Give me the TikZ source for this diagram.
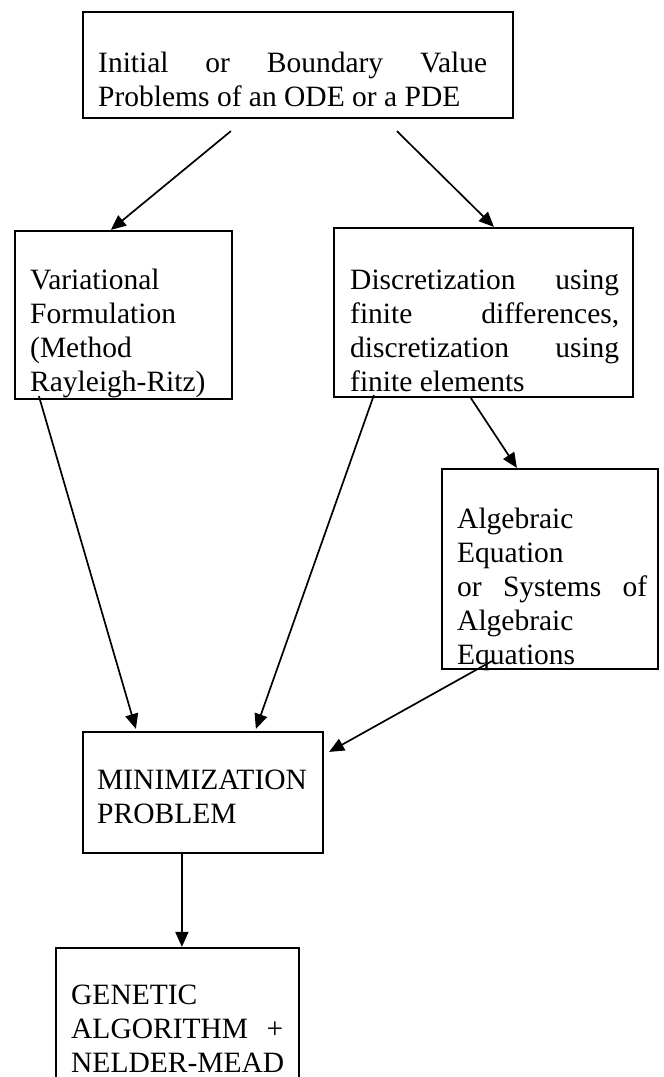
\documentclass[tikz,border=0pt]{standalone}
\usepackage{fontspec}
\setmainfont{Liberation Serif}
\usetikzlibrary{calc,arrows.meta}
\begin{document}
\begin{tikzpicture}[x=1pt,y=-1pt,
  box/.style={draw,line width=2.2pt,inner sep=0pt,minimum width=#1},
  txt/.style={anchor=north west,inner sep=0pt,text width=#1,align=justify,
    font=\fontsize{29.5}{34}\selectfont},
  arr/.style={line width=1.7pt,-{Triangle[length=15pt,width=13pt]}}]
\useasboundingbox (0,0) rectangle (664,1077);
\clip (0,0) rectangle (664,1077);
% boxes
\node[box=430pt,minimum height=106pt] (top) at (298,65) {};
\node[box=217pt,minimum height=168pt] (var) at (123.5,315) {};
\node[box=299pt,minimum height=169pt] (disc) at (483.5,312.5) {};
\node[box=216pt,minimum height=200pt] (alg) at (550,569) {};
\node[box=240pt,minimum height=121pt] (min) at (203,792.5) {};
\node[box=243pt,minimum height=142pt] (gen) at (177.5,1019) {};
% texts
\node[txt=389pt] (ttop) at (98,48) {\strut Initial or Boundary Value\linebreak Problems of an ODE or a PDE};
\node[txt=190pt] (tvar) at (30,265) {\strut Variational\newline Formulation\newline (Method\newline Rayleigh-Ritz)};
\node[txt=269pt] (tdisc) at (350,265) {\strut Discretization using\linebreak finite differences,\linebreak discretization using\linebreak finite elements};
\node[txt=190pt] (talg) at (457,504) {\strut Algebraic\newline Equation\newline or Systems of\linebreak Algebraic\newline Equations};
\node[txt=215pt] (tmin) at (97,765) {\strut MINIMIZATION\newline PROBLEM};
\node[txt=212pt] (tgen) at (71,980) {\strut GENETIC\newline ALGORITHM +\linebreak \mbox{NELDER-MEAD}};
% arrows
\draw[arr] ($(top.south west)+(149,12)$) -- ($(var.north west)+(97,0)$);
\draw[arr] ($(top.south west)+(315,12)$) -- ($(disc.north west)+(161,0)$);
\draw[arr] ($(disc.south west)+(138,0)$) -- ($(alg.north west)+(76,0)$);
\draw[arr] ($(var.south west)+(25,-4)$) -- ($(min.north west)+(54,-2)$);
\draw[arr] ($(disc.south west)+(41,-3)$) -- ($(min.north west)+(174,-2)$);
\draw[arr] ($(alg.south west)+(51,-9)$) -- ($(min.north east)+(5,21)$);
\draw[arr] ($(min.south west)+(100,0)$) -- ($(gen.north west)+(127,0)$);
\end{tikzpicture}
\end{document}
